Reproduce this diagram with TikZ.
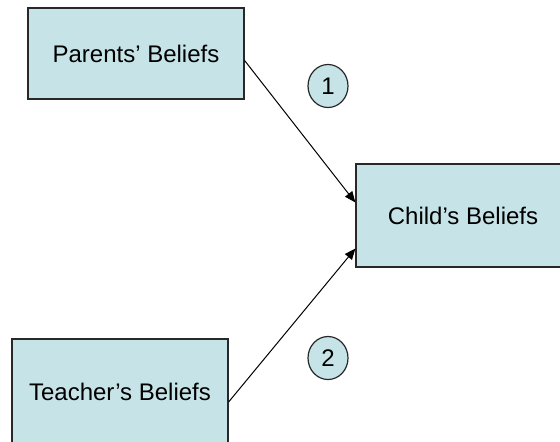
\documentclass[tikz,border=0pt]{standalone}
\usepackage{fontspec}
\setmainfont{Liberation Sans}
\usepackage{xcolor}
\usepackage{tikz}
\usetikzlibrary{arrows.meta,positioning,shapes.geometric,calc}
\definecolor{beliefcyan}{RGB}{198,228,232}
\definecolor{edgegray}{RGB}{40,40,40}

\begin{document}
\begin{tikzpicture}[x=0.5pt,y=-0.5pt,
  belief/.style={rectangle,draw=edgegray,fill=beliefcyan,line width=0.6pt,
                 minimum width=108pt,align=center,
                 font=\fontsize{12}{14}\selectfont},
  num/.style={ellipse,draw=edgegray,fill=beliefcyan,line width=0.6pt,
              minimum width=20pt,minimum height=21.5pt,inner sep=0pt,
              font=\fontsize{12}{14}\selectfont},
  ar/.style={-{Triangle[length=5.5pt,width=4.5pt]},line width=0.5pt,black}
]
\clip (0,0) rectangle (560,441);

\node[belief,minimum height=45.5pt] (par) at (136,53.5)  {Parents’ Beliefs};
\node[belief,minimum height=51.5pt,minimum width=107pt] (child) at (463,215.5) {Child’s Beliefs};
\node[belief,minimum height=53pt] (teach) at (120,392) {Teacher’s Beliefs};

\node[num] (one) at (328,86)  {1};
\node[num] (two) at (328,358) {2};

\draw[ar] ([yshift=-3.5pt]par.east) -- ([yshift=6.5pt]child.west);
\draw[ar] ([yshift=-5pt]teach.east) -- ([yshift=-16.5pt]child.west);
\end{tikzpicture}
\end{document}
